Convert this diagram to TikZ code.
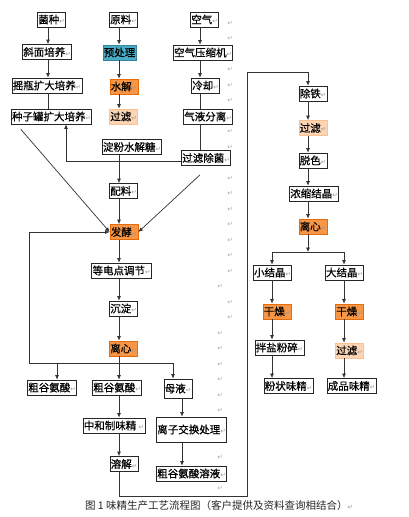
\documentclass[tikz,border=0pt]{standalone}
\usepackage{fontspec}
\newfontfamily\cnfont[FakeBold=0.6]{Noto Sans CJK SC}
\newfontfamily\capfont{Noto Sans CJK SC}
\newfontfamily\retfont{DejaVu Sans}
\usetikzlibrary{arrows.meta,calc}
\definecolor{TealFill}{RGB}{75,172,198}
\definecolor{TealEdge}{RGB}{49,133,156}
\definecolor{OrangeFill}{RGB}{247,150,70}
\definecolor{OrangeEdge}{RGB}{228,108,10}
\definecolor{PeachFill}{RGB}{252,213,181}
\definecolor{PeachEdge}{RGB}{250,192,144}
\newcommand{\retsym}{{\retfont\fontsize{6.5}{6.5}\selectfont\color{black!40}↵}}
\tikzset{
  stage/.style={draw=black!85,fill=white,line width=0.7pt,inner xsep=0.8pt,
    inner ysep=0pt,minimum height=15pt,font=\cnfont\fontsize{10.5}{12}\selectfont},
  hot/.style={stage,draw=OrangeEdge,fill=OrangeFill},
  warm/.style={stage,draw=PeachEdge,fill=PeachFill},
  cool/.style={stage,draw=TealEdge,fill=TealFill},
  arrow/.style={-{Latex[length=4.5pt,width=4pt]},line width=0.7pt,black!80},
  link/.style={line width=0.7pt,black!80},
  parmark/.style={inner sep=0pt,font=\retfont\fontsize{6.5}{6.5}\selectfont,text=black!35}
}

\begin{document}
\begin{tikzpicture}[x=1pt,y=-1pt]

\path[fill=white,use as bounding box] (0,0) rectangle (409,517);

% columns of the connectors
\coordinate (colL) at (48,0);
\coordinate (colM) at (119,0);
\coordinate (colA) at (200,0);
\coordinate (colT) at (66,0);
\coordinate (colI) at (182,0);
\coordinate (colR) at (308,0);
\coordinate (colS) at (272,0);
\coordinate (colB) at (344,0);

% culture line
\node[stage] (seed) at (51.5,19.5) {菌种\retsym};
\node[stage] (slant) at (47,52) {斜面培养\retsym};
\node[stage] (shake) at (47,85.5) {摇瓶扩大培养\retsym};
\node[stage] (tank) at (51.5,116.5) {种子罐扩大培养\retsym};

% raw material line
\node[stage] (raw) at (123.5,19.5) {原料\retsym};
\node[cool] (pre) at (119.5,52.5) {预处理};
\node[hot] (hydro) at (124,86.5) {水解\retsym};
\node[warm] (filt) at (123.5,116.5) {过滤\retsym};
\node[stage] (sugar) at (132,147) {淀粉水解糖\retsym};

% air line
\node[stage] (air) at (204.5,19.5) {空气\retsym};
\node[stage] (comp) at (203,52.5) {空气压缩机\retsym};
\node[stage] (chill) at (205.5,85.5) {冷却\retsym};
\node[stage] (sep) at (208,116.5) {气液分离\retsym};
\node[stage] (sterile) at (206,158) {过滤除菌\retsym};

% fermentation
\node[stage] (mix) at (123.5,191) {配料\retsym};
\node[hot] (ferm) at (124,232) {发酵\retsym};
\node[stage] (iep) at (121.5,270.5) {等电点调节\retsym};
\node[stage] (prec) at (123.5,308.5) {沉淀\retsym};
\node[hot] (cent) at (123.5,348.5) {离心\retsym};

\node[stage] (crudeA) at (52,387.5) {粗谷氨酸\retsym};
\node[stage] (crudeB) at (117,387.5) {粗谷氨酸\retsym};
\node[stage,minimum height=19pt] (mother) at (178,388.5) {母液\retsym};
\node[stage] (neut) at (114,425.5) {中和制味精 \retsym};
\node[stage,minimum height=25pt] (ionex) at (191.5,429.5) {离子交换处理\retsym};
\node[stage] (dissolve) at (124,464) {溶解\retsym};
\node[stage] (sol) at (191.5,473.5) {粗谷氨酸溶液\retsym};

% refining
\node[stage] (iron) at (313,93.5) {除铁\retsym};
\node[warm] (filtB) at (313,128) {过滤\retsym};
\node[stage] (decol) at (313,160.5) {脱色\retsym};
\node[stage] (conc) at (314,193.5) {浓缩结晶\retsym};
\node[hot] (centB) at (313,226.5) {离心\retsym};

\node[stage] (small) at (272.5,272.5) {小结晶\retsym};
\node[stage] (large) at (344.5,272.5) {大结晶\retsym};
\node[hot] (dryA) at (277,311.5) {干燥\retsym};
\node[hot] (dryB) at (349.5,311.5) {干燥\retsym};
\node[stage] (mill) at (279.5,347.5) {拌盐粉碎\retsym};
\node[warm] (filtC) at (349.5,350.5) {过滤\retsym};
\node[stage] (powder) at (288.5,386) {粉状味精\retsym};
\node[stage] (product) at (351.5,386) {成品味精\retsym};

% straight runs
\foreach \a/\b/\c in {seed/slant/colL,slant/shake/colL,raw/pre/colM,pre/hydro/colM,
    hydro/filt/colM,sugar/mix/colM,mix/ferm/colM,ferm/iep/colM,iep/prec/colM,
    prec/cent/colM,air/comp/colA,comp/chill/colA,crudeB/neut/colM,neut/dissolve/colM,
    mother/ionex/colI,ionex/sol/colI,iron/filtB/colR,filtB/decol/colR,decol/conc/colR,
    conc/centB/colR,small/dryA/colS,dryA/mill/colS,mill/powder/colS,large/dryB/colB,
    dryB/filtC/colB,filtC/product/colB}
  \draw[arrow] (\a.south -| \c) -- (\b.north -| \c);
\foreach \a/\b/\c in {shake/tank/colL,chill/sep/colA,sep/sterile/colA}
  \draw[link] (\a.south -| \c) -- (\b.north -| \c);

% sterile air back to the seed tank
\draw[arrow] ([yshift=-3pt]sterile.west) -| (tank.south -| colT);
\draw[arrow] ([xshift=10pt,yshift=-5pt]tank.south west) -- (ferm.west);
\draw[arrow] ([xshift=-6pt,yshift=-9pt]sterile.south) -- (ferm.east);

% split after centrifuge
\coordinate (barL) at (29,363);
\coordinate (barA) at (57,363);
\coordinate (barB) at (119,363);
\coordinate (barC) at (173,363);
\draw[link] (cent.south -| barB) -- (barB);
\draw[link] (barL) -- (barC);
\draw[arrow] (barL) |- (ferm.west);
\draw[arrow] (barA) -- (crudeA.north -| barA);
\draw[arrow] (barB) -- (crudeB.north -| barB);
\draw[arrow] (barC) -- (mother.north -| barC);

% loop to refining
\coordinate (loopBot) at (247,496);
\coordinate (loopTop) at (308,72);
\draw[arrow] (dissolve.south -| colM) |- (loopBot) |- (loopTop) -- (iron.north -| colR);

% split into crystal sizes
\coordinate (brM) at (308,252);
\coordinate (brA) at (272,252);
\coordinate (brB) at (344,252);
\draw[arrow] (centB.south -| brM) -- (brM);
\draw[link] (brA) -- (brB);
\draw[arrow] (brA) -- (small.north -| brA);
\draw[arrow] (brB) -- (large.north -| brB);

% paragraph marks
\foreach \x/\y [count=\i] in {230/23,230/38.5,230/69.5,230/85,230/100.5,230/131.5,
    230/147,230/178,230/193.5,230/209,230/224.5,230/240,230/255.5,230/271,220/286.5,
    230/302,230/317.5,220/333,220/348.5,220/364,220/379.5,220/395,220/410.5,220/457,
    220/488}
  \node[parmark] (pm\i) at (\x,\y) {↵};

\node[font=\capfont\fontsize{10.5}{12}\selectfont,text=black!85,inner sep=0pt]
  (caption) at (219,506) {图 1 味精生产工艺流程图（客户提供及资料查询相结合）\retsym};

\end{tikzpicture}
\end{document}
